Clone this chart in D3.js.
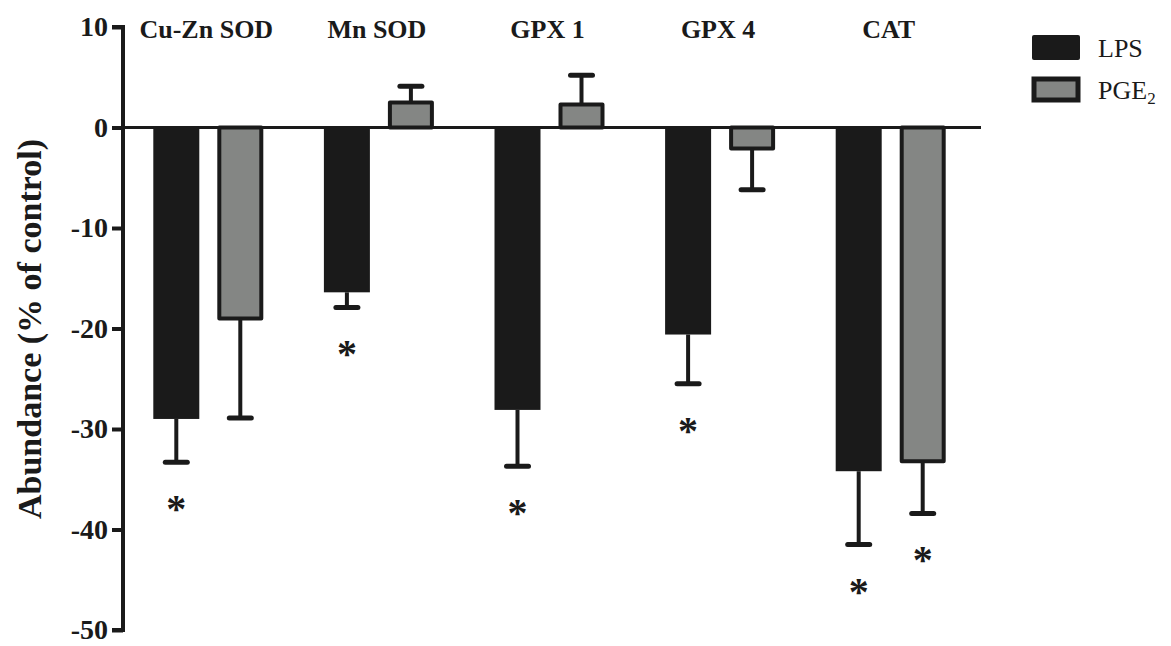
<!DOCTYPE html>
<html>
<head>
<meta charset="utf-8">
<script src="https://cdn.jsdelivr.net/npm/d3@7"></script>
<style>
  body { margin: 0; background: #fff; }
  text { font-family: "Times New Roman", "Liberation Serif", serif; fill: #1a1a1a; }
</style>
</head>
<body>
<div id="chart"></div>
<script>
// data
var categories = ["Cu-Zn SOD", "Mn SOD", "GPX 1", "GPX 4", "CAT"];
var series = ["LPS", "PGE2"];
var lpsMean = [-29.0, -16.4, -28.1, -20.6, -34.2];
var lpsErr = [4.3, 1.5, 5.6, 4.9, 7.3];
var pgeMean = [-19.0, 2.5, 2.3, -2.1, -33.2];
var pgeErr = [9.9, 1.6, 2.9, 4.1, 5.2];
var lpsSig = [true, true, true, true, true];
var pgeSig = [false, false, false, false, true];
var yTicks = [10, 0, -10, -20, -30, -40, -50];

var svgWidth = 1171;
var svgHeight = 646;
var ink = "#1a1a1a";
var grey = "#848684";

var svg = d3.select("#chart")
  .append("svg")
  .attr("width", svgWidth)
  .attr("height", svgHeight);

svg.append("rect")
  .attr("width", svgWidth)
  .attr("height", svgHeight)
  .attr("fill", "#fff");

// scales
var yScale = d3.scaleLinear()
  .domain([-50, 10])
  .range([630, 27]);

var xScale = d3.scaleBand()
  .domain(categories)
  .range([123, 976])
  .padding(0);

var barW = 46;
var offset = 32;

// rows
var rows = [];
categories.forEach(function(c, i) {
  rows.push({ cat: c, s: 0, v: lpsMean[i], e: lpsErr[i], sig: lpsSig[i] });
  rows.push({ cat: c, s: 1, v: pgeMean[i], e: pgeErr[i], sig: pgeSig[i] });
});

function cx(d) {
  return xScale(d.cat) + xScale.bandwidth() / 2 + (d.s === 0 ? -offset : offset);
}

// y axis (plain hyphen for negatives)
var yAxis = d3.axisLeft(yScale)
  .tickValues(yTicks)
  .tickSize(11)
  .tickPadding(4)
  .tickFormat(d => String(d));

var yg = svg.append("g")
  .attr("transform", "translate(123,0)")
  .call(yAxis);

yg.select(".domain")
  .attr("stroke", ink)
  .attr("stroke-width", 4)
  .attr("d", "M-11," + yScale(10) + "H0V" + yScale(-50) + "H-11");

yg.selectAll(".tick line")
  .attr("stroke", ink)
  .attr("stroke-width", 4);

yg.selectAll(".tick text")
  .attr("font-size", "28px")
  .attr("font-weight", "bold")
  .attr("fill", ink)
  .style("font-family", '"Times New Roman", "Liberation Serif", serif');

// y label
svg.append("text")
  .attr("transform", "translate(41," + 329 + ") rotate(-90)")
  .attr("text-anchor", "middle")
  .attr("font-size", "34px")
  .attr("font-weight", "bold")
  .text("Abundance (% of control)");

// category labels
svg.selectAll(".cat")
  .data(categories)
  .enter()
  .append("text")
  .attr("class", "cat")
  .attr("x", d => xScale(d) + xScale.bandwidth() / 2 - 2)
  .attr("y", 38)
  .attr("text-anchor", "middle")
  .attr("font-size", "26px")
  .attr("font-weight", "bold")
  .text(d => d);

// bars
svg.selectAll(".bar")
  .data(rows)
  .enter()
  .append("rect")
  .attr("class", "bar")
  .attr("x", d => d.s === 0 ? cx(d) - barW / 2 : cx(d) - barW / 2 + 2)
  .attr("width", d => d.s === 0 ? barW : barW - 4)
  .attr("y", d => Math.min(yScale(d.v), yScale(0)))
  .attr("height", d => Math.abs(yScale(d.v) - yScale(0)))
  .attr("fill", d => d.s === 0 ? ink : grey)
  .attr("stroke", d => d.s === 0 ? "none" : ink)
  .attr("stroke-width", 4)
  .attr("stroke-linejoin", "round");

// zero line
svg.append("line")
  .attr("x1", 123)
  .attr("x2", 981)
  .attr("y1", yScale(0))
  .attr("y2", yScale(0))
  .attr("stroke", ink)
  .attr("stroke-width", 3);

// error bars (one sided, away from zero)
function errEnd(d) {
  return d.v < 0 ? d.v - d.e : d.v + d.e;
}

svg.selectAll(".err")
  .data(rows)
  .enter()
  .append("line")
  .attr("class", "err")
  .attr("x1", cx)
  .attr("x2", cx)
  .attr("y1", d => yScale(d.v))
  .attr("y2", d => yScale(errEnd(d)))
  .attr("stroke", ink)
  .attr("stroke-width", 4);

svg.selectAll(".cap")
  .data(rows)
  .enter()
  .append("line")
  .attr("class", "cap")
  .attr("x1", d => cx(d) - 11)
  .attr("x2", d => cx(d) + 11)
  .attr("y1", d => yScale(errEnd(d)))
  .attr("y2", d => yScale(errEnd(d)))
  .attr("stroke", ink)
  .attr("stroke-width", 5)
  .attr("stroke-linecap", "round");

// asterisks
svg.selectAll(".star")
  .data(rows.filter(d => d.sig))
  .enter()
  .append("text")
  .attr("class", "star")
  .attr("x", cx)
  .attr("y", d => yScale(errEnd(d)) + 40 + 20)
  .attr("text-anchor", "middle")
  .attr("font-size", "40px")
  .attr("font-weight", "bold")
  .text("*");

// legend
var legend = svg.append("g");

legend.append("rect")
  .attr("x", 1032)
  .attr("y", 35)
  .attr("width", 48)
  .attr("height", 25)
  .attr("rx", 2)
  .attr("fill", ink);

legend.append("rect")
  .attr("x", 1034)
  .attr("y", 79)
  .attr("width", 44)
  .attr("height", 21)
  .attr("fill", grey)
  .attr("stroke", ink)
  .attr("stroke-width", 5);

legend.append("text")
  .attr("x", 1098)
  .attr("y", 57)
  .attr("font-size", "26px")
  .text(series[0]);

var pgeText = legend.append("text")
  .attr("x", 1098)
  .attr("y", 99)
  .attr("font-size", "26px");
pgeText.append("tspan").text("PGE");
pgeText.append("tspan")
  .attr("font-size", "17px")
  .attr("dy", 5)
  .text("2");
</script>
</body>
</html>
